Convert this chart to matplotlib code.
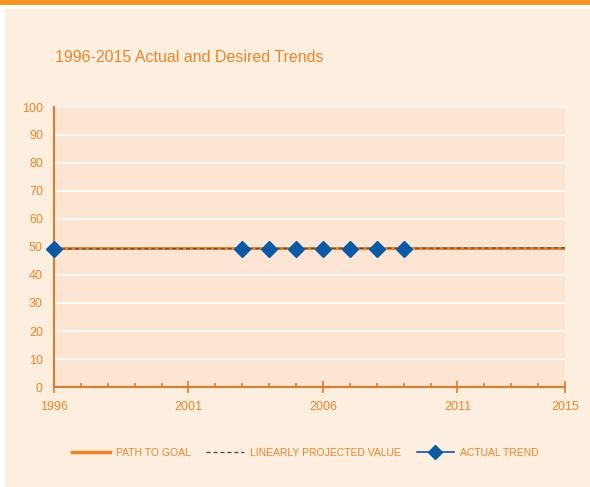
import matplotlib.pyplot as plt
from matplotlib.patches import Rectangle
from matplotlib.lines import Line2D
import numpy as np

plt.rcParams['font.family'] = ['Liberation Sans', 'DejaVu Sans']

years = list(range(1996, 2016))
path_to_goal = [49.5] * 20
projected = [49.3 + 0.02 * i for i in range(20)]
actual_years = [1996, 2003, 2004, 2005, 2006, 2007, 2008, 2009]
actual_vals = [49.3, 49.3, 49.3, 49.3, 49.3, 49.3, 49.3, 49.3]

orange = '#f28428'
spine = '#e07b2a'
blue = '#0a5aa8'

fig = plt.figure(figsize=(5.9, 4.87), dpi=100)
fig.patch.set_facecolor('#fdefe0')
fig.patches.append(Rectangle((0, 0), 5 / 590, 1, transform=fig.transFigure,
                             facecolor='white', edgecolor='none', zorder=-1))
fig.patches.append(Rectangle((0, 1 - 9 / 487), 1, 9 / 487, transform=fig.transFigure,
                             facecolor='white', edgecolor='none', zorder=-1))
fig.patches.append(Rectangle((0, 1 - 5 / 487), 1, 5 / 487, transform=fig.transFigure,
                             facecolor='#f7941e', edgecolor='none', zorder=-1))

ax = fig.add_axes([54 / 590, 1 - 387 / 487, 511 / 590, 280 / 487])
ax.set_zorder(2)
ax.set_facecolor('#fde5d3')

ax.plot(years, path_to_goal, color='#f58220', lw=2.2, zorder=3)
ax.plot(years, projected, color='#5a5050', lw=1, ls=(0, (3, 2)), zorder=4)

# actual trend: gap between 1996 and 2003
ax_x = [actual_years[0], np.nan] + actual_years[1:]
ax_y = [actual_vals[0], np.nan] + actual_vals[1:]
ax.plot(ax_x, ax_y, color=blue, lw=1.2, zorder=2)
ax.plot(actual_years, actual_vals, ls='none', marker='D', ms=8.5, color=blue,
        clip_on=False, zorder=5)

ax.set_xlim(1996, 2015)
ax.set_ylim(0, 100)
ax.set_yticks(range(0, 101, 10))
ax.set_xticks([1996, 2001, 2006, 2011, 2015])
ax.set_xticks(years, minor=True)
ax.grid(axis='y', color='white', lw=1.2)
ax.set_axisbelow(True)

for s in ['top', 'right']:
    ax.spines[s].set_visible(False)
for s in ['left', 'bottom']:
    ax.spines[s].set_color(spine)
    ax.spines[s].set_linewidth(1.5)

ax.tick_params(axis='y', length=0, colors=orange, labelsize=9, pad=8)
ax.tick_params(axis='x', which='major', direction='inout', length=8, width=1.2,
               color=spine, labelcolor=orange, labelsize=9, pad=6)
ax.tick_params(axis='x', which='minor', direction='in', length=3, width=1.2, color=spine)

fig.text(55 / 590, 1 - 57 / 487, '1996-2015 Actual and Desired Trends',
         color=orange, fontsize=11.5, va='center', ha='left')

handles = [
    Line2D([], [], color='#f58220', lw=2.5),
    Line2D([], [], color='#5a5050', lw=1, ls=(0, (3, 2))),
    Line2D([], [], color=blue, lw=1.2, marker='D', ms=7),
]
labels = ['PATH TO GOAL', 'LINEARLY PROJECTED VALUE', 'ACTUAL TREND']
leg = fig.legend(handles, labels, loc='center', bbox_to_anchor=(0.518, 1 - 453 / 487),
                 ncol=3, frameon=False, fontsize=7.5, handlelength=3.6,
                 columnspacing=1.5, handletextpad=0.6)
for t in leg.get_texts():
    t.set_color(orange)

fig.savefig('out.png', dpi=100, facecolor=fig.get_facecolor())
